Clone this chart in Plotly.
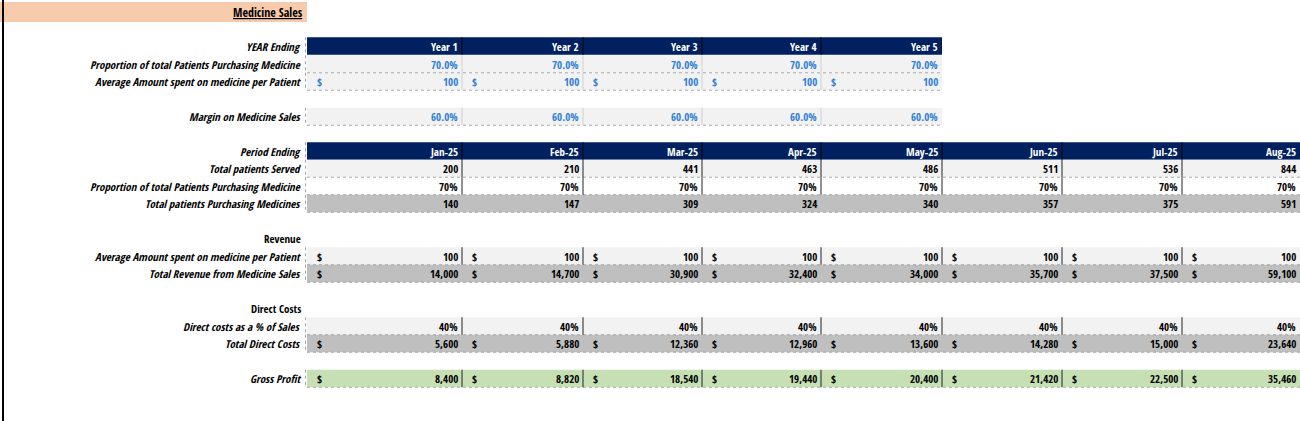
import plotly.graph_objects as go

# ---- data ----
years = ["Year 1", "Year 2", "Year 3", "Year 4", "Year 5"]
year_prop = [70.0, 70.0, 70.0, 70.0, 70.0]
year_avg_spend = [100, 100, 100, 100, 100]
year_margin = [60.0, 60.0, 60.0, 60.0, 60.0]

months = ["Jan-25", "Feb-25", "Mar-25", "Apr-25", "May-25", "Jun-25", "Jul-25", "Aug-25"]
patients_served = [200, 210, 441, 463, 486, 511, 536, 844]
prop_purchasing = [70, 70, 70, 70, 70, 70, 70, 70]
patients_purchasing = [140, 147, 309, 324, 340, 357, 375, 591]
avg_spend = [100, 100, 100, 100, 100, 100, 100, 100]
total_revenue = [14000, 14700, 30900, 32400, 34000, 35700, 37500, 59100]
direct_pct = [40, 40, 40, 40, 40, 40, 40, 40]
direct_costs = [5600, 5880, 12360, 12960, 13600, 14280, 15000, 23640]
gross_profit = [8400, 8820, 18540, 19440, 20400, 21420, 22500, 35460]

# ---- layout helpers ----
W, H = 1300, 421
edges = [307, 462, 583, 702, 821, 942, 1062, 1182, 1300]
ROW_H = 17.5
NAVY, LIGHT, DARK, GREEN, BLUE = "#002060", "#f2f2f2", "#bfbfbf", "#c6e0b4", "#2f7ed8"
FONT = "Open Sans Condensed, Roboto Condensed, Roboto, sans-serif"

shapes, annots = [], []


def text(x, y, s, anchor="right", color="black", bold=False, italic=False, size=11, underline=False):
    if bold:
        s = f"<b>{s}</b>"
    if italic:
        s = f"<i>{s}</i>"
    if underline:
        s = f"<u>{s}</u>"
    annots.append(dict(x=x, y=y, text=s, showarrow=False, xanchor=anchor, yanchor="middle",
                       font=dict(family=FONT, size=size, color=color)))


def rect(x0, x1, y0, y1, fill):
    shapes.append(dict(type="rect", x0=x0, x1=x1, y0=y0, y1=y1, fillcolor=fill,
                       line=dict(width=0), layer="below"))


def line(x0, y0, x1, y1, color="black", width=1, dash="solid"):
    shapes.append(dict(type="line", x0=x0, y0=y0, x1=x1, y1=y1,
                       line=dict(color=color, width=width, dash=dash)))


def row(yc, label, values, fmt, fill=None, bold=False, label_bold=None, dollar=False,
        color="black", vcolor="#222", header=False):
    n = len(values)
    y0, y1 = yc - ROW_H / 2, yc + ROW_H / 2
    text(303, yc, label, bold=bold if label_bold is None else label_bold, italic=True)
    if fill:
        rect(edges[0], edges[n], y0, y1, fill)
    line(305.5, y0, 305.5, y1, color="#888", width=0.8, dash="dot")
    if not header:
        line(edges[0], y1, edges[n], y1, color="#999", width=0.8, dash="dot")
    for i, v in enumerate(values):
        xr = edges[i + 1] - 2
        text(xr, yc, fmt(v), color="white" if header else color, bold=bold or header)
        if dollar:
            text(edges[i] + 8, yc, "$", anchor="left", color=color, bold=bold)
        if vcolor and i < n - 1:
            line(edges[i + 1], y0, edges[i + 1], y1, color="#000" if header else vcolor, width=1)


pct1 = lambda v: f"{v:.1f}%"
pct0 = lambda v: f"{v:.0f}%"
num = lambda v: f"{v:,.0f}"
same = lambda v: v

# title band
rect(0, 307, 2, 22, "#f8cbad")
text(305, 12, "Medicine Sales", bold=True, underline=True, size=12)
line(3, 0, 3, H, width=2)

# yearly assumptions
row(46, "YEAR Ending", years, same, fill=NAVY, header=True, label_bold=True)
row(64, "Proportion of total Patients Purchasing Medicine", year_prop, pct1, fill=LIGHT,
    bold=True, label_bold=False, color=BLUE, vcolor="#d0d0d0")
row(81.5, "Average Amount spent on medicine per Patient", year_avg_spend, num, fill=LIGHT,
    bold=True, label_bold=False, color=BLUE, dollar=True, vcolor="#d0d0d0")
row(116.5, "Margin on Medicine Sales", year_margin, pct1, fill=LIGHT, bold=True,
    label_bold=False, color=BLUE, vcolor="#d0d0d0")

# monthly
row(151, "Period Ending", months, same, fill=NAVY, header=True, label_bold=True)
row(168.5, "Total patients Served", patients_served, num, fill=LIGHT)
row(186, "Proportion of total Patients Purchasing Medicine", prop_purchasing, pct0)
row(203.5, "Total patients Purchasing Medicines", patients_purchasing, num, fill=DARK,
    bold=True, vcolor=None)

text(303, 238.5, "Revenue", bold=True)
row(256, "Average Amount spent on medicine per Patient", avg_spend, num, fill=LIGHT, dollar=True)
row(273.5, "Total Revenue from Medicine Sales", total_revenue, num, fill=DARK, bold=True,
    dollar=True, vcolor=None)

text(303, 308.5, "Direct Costs", bold=True)
row(326, "Direct costs as a % of Sales", direct_pct, pct0, fill=LIGHT)
row(343.5, "Total Direct Costs", direct_costs, num, fill=DARK, bold=True, dollar=True,
    vcolor=None)

row(378.5, "Gross Profit", gross_profit, num, fill=GREEN, bold=True, dollar=True)

fig = go.Figure()
fig.update_layout(
    width=W, height=H, margin=dict(l=0, r=0, t=0, b=0),
    plot_bgcolor="white", paper_bgcolor="white",
    xaxis=dict(range=[0, W], visible=False, fixedrange=True),
    yaxis=dict(range=[H, 0], visible=False, fixedrange=True),
    shapes=shapes, annotations=annots, showlegend=False,
)
fig.write_html("out.html", config={"displayModeBar": False},
               post_script="document.body.style.margin='0';document.body.style.overflow='hidden';")
